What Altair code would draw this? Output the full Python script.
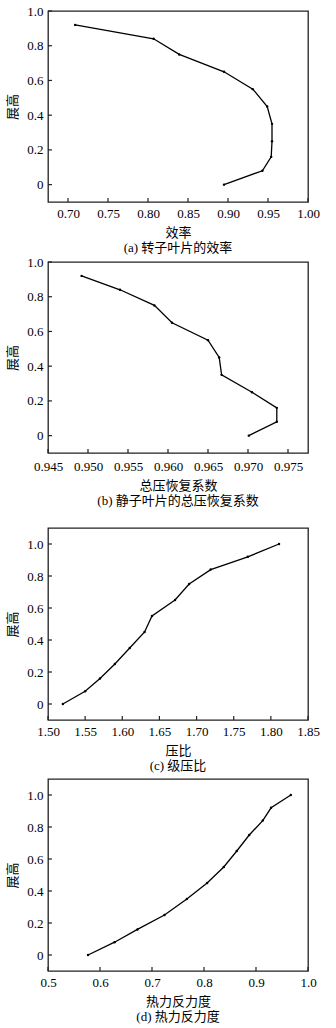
import altair as alt
import pandas as pd

# ---- data ----
span11 = [0, 0.08, 0.16, 0.25, 0.35, 0.45, 0.55, 0.65, 0.75, 0.84, 0.92]
span12 = [0, 0.08, 0.16, 0.25, 0.35, 0.45, 0.55, 0.65, 0.75, 0.84, 0.92, 1.0]

efficiency = [0.895, 0.943, 0.954, 0.955, 0.955, 0.949, 0.931, 0.895, 0.839, 0.807, 0.709]
recovery = [0.9701, 0.9736, 0.9736, 0.9705, 0.9667, 0.9664, 0.9650, 0.9605, 0.9583, 0.9540, 0.9492]
pressure_ratio = [1.520, 1.550, 1.570, 1.590, 1.610, 1.630, 1.640, 1.671, 1.690, 1.719, 1.769, 1.811]
reaction = [0.577, 0.628, 0.672, 0.724, 0.767, 0.806, 0.838, 0.863, 0.887, 0.913, 0.929, 0.967]

ticks_a = [0.70, 0.75, 0.80, 0.85, 0.90, 0.95, 1.00]
ticks_b = [0.945, 0.950, 0.955, 0.960, 0.965, 0.970, 0.975]
ticks_c = [1.50, 1.55, 1.60, 1.65, 1.70, 1.75, 1.80, 1.85]
ticks_d = [0.5, 0.6, 0.7, 0.8, 0.9, 1.0]
y_ticks = [0, 0.2, 0.4, 0.6, 0.8, 1.0]

FONT = "Liberation Serif, Noto Sans CJK SC"
INK = "#222222"
W = 260


def panel(xv, yv, xdom, xticks, xfmt, ydom, xtitle, caption, h, lpad=5):
    df = pd.DataFrame({"x": xv, "y": yv, "i": list(range(len(xv)))})
    xs = alt.Scale(domain=xdom, nice=False, zero=False)
    ys = alt.Scale(domain=ydom, nice=False, zero=False)
    xaxis = alt.Axis(values=xticks, format=xfmt, title=xtitle, ticks=False, labelOverlap=False,
                     labelFlush=False, domain=False, grid=False, labelPadding=lpad, titlePadding=6)
    yaxis = alt.Axis(values=y_ticks, title="展高", ticks=False, domain=False, grid=False,
                     labelExpr="datum.value == 0 ? '0' : format(datum.value, '.1f')",
                     labelOverlap=False, labelFlush=False, labelPadding=5, titlePadding=7)
    line = alt.Chart(df).mark_line(
        color="black", strokeWidth=1.3,
        point=alt.OverlayMarkDef(color="black", size=6, filled=True),
    ).encode(
        x=alt.X("x:Q", scale=xs, axis=xaxis),
        y=alt.Y("y:Q", scale=ys, axis=yaxis),
        order="i:Q",
    )
    ytk = alt.Chart(pd.DataFrame({"y": y_ticks})).mark_rule(color=INK, strokeWidth=1.2).encode(
        y=alt.Y("y:Q", scale=ys, axis=yaxis), x=alt.value(0), x2=alt.value(4))
    xtk = alt.Chart(pd.DataFrame({"x": xticks})).mark_rule(color=INK, strokeWidth=1.2).encode(
        x=alt.X("x:Q", scale=xs, axis=xaxis), y=alt.value(h), y2=alt.value(h - 4))
    return alt.layer(line, ytk, xtk).properties(
        width=W, height=h,
        title=alt.TitleParams(caption, orient="bottom", anchor="middle", frame="group",
                              fontSize=13, fontWeight="normal", font=FONT, color="black", offset=3),
    )


def spacer(h):
    return alt.Chart(pd.DataFrame({"s": [0]})).mark_point(opacity=0).encode(
        x=alt.value(0), y=alt.value(0)
    ).properties(width=W, height=h, view=alt.ViewBackground(stroke="transparent"))


pa = panel(efficiency, span11, [0.675, 1.0], ticks_a, ".2f", [-0.1, 1.0], "效率", "(a) 转子叶片的效率", 191)
pb = panel(recovery, span11, [0.945, 0.9775], ticks_b, ".3f", [-0.1, 1.0], "总压恢复系数", "(b) 静子叶片的总压恢复系数", 191, lpad=7)
pc = panel(pressure_ratio, span12, [1.5, 1.85], ticks_c, ".2f", [-0.1, 1.1], "压比", "(c) 级压比", 192)
pd_ = panel(reaction, span12, [0.5, 1.0], ticks_d, ".1f", [-0.1, 1.1], "热力反力度", "(d) 热力反力度", 192)

chart = alt.vconcat(
    pa, spacer(60), pb, spacer(75), pc, spacer(59), pd_,
    spacing=0, bounds="flush",
).properties(
    padding={"left": 6, "top": 4, "right": 5, "bottom": 0},
    background="white",
).configure_view(
    stroke=INK, strokeWidth=1.3
).configure_axis(
    labelFont=FONT, titleFont=FONT, labelFontSize=13, titleFontSize=13,
    labelColor="black", titleColor="black", titleFontWeight="normal",
)

chart.save("out.html", embed_options={"renderer": "svg", "actions": False})
